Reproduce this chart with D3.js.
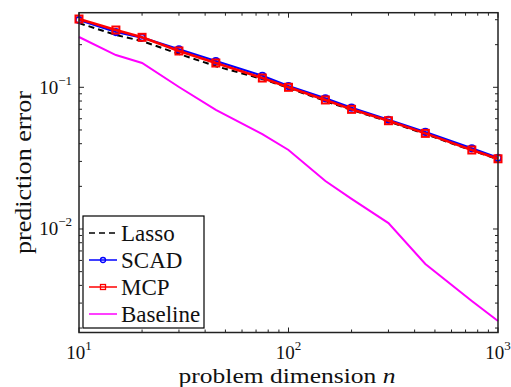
<!DOCTYPE html>
<html>
<head>
<meta charset="utf-8">
<script src="https://cdn.jsdelivr.net/npm/d3@7"></script>
<style>
  body { margin: 0; background: #fff; }
  svg { display: block; font-family: "Liberation Serif", "Times New Roman", serif; }
</style>
</head>
<body>
<svg id="svg"></svg>
<script>
// problem dimension n
const dims = [10, 15, 20, 30, 45, 75, 100, 150, 200, 300, 450, 750, 1000];
const lasso = [0.284, 0.234, 0.212, 0.172, 0.141, 0.1145, 0.0989, 0.080, 0.0692, 0.0574, 0.0468, 0.0358, 0.0311];
const scad = [0.2985, 0.2455, 0.2245, 0.1854, 0.1533, 0.1207, 0.1021, 0.0836, 0.0718, 0.0590, 0.0484, 0.0371, 0.0318];
const mcp = [0.3034, 0.2537, 0.2253, 0.1804, 0.1484, 0.1163, 0.100, 0.0814, 0.0699, 0.0581, 0.0473, 0.0361, 0.0313];
const baseline = [0.2265, 0.169, 0.1485, 0.1005, 0.0692, 0.0468, 0.0361, 0.0218, 0.0163, 0.0110, 0.00566, 0.0031, 0.00224];
const xTicks = [10, 100, 1000];
const xTickExp = ['1', '2', '3'];
const yTicks = [0.01, 0.1];
const yTickExp = ['\u22122', '\u22121'];
const legendNames = ['Lasso', 'SCAD', 'MCP', 'Baseline'];

const W = 511, H = 387;
const margin = { top: 12.7, right: 13, bottom: 54.5, left: 79 };
const width = W - margin.left - margin.right;
const height = H - margin.top - margin.bottom;

const svg = d3.select('#svg').attr('width', W).attr('height', H);
const g = svg.append('g').attr('transform', `translate(${margin.left},${margin.top})`);

const x = d3.scaleLog().domain([10, 1000]).range([0, width]);
const y = d3.scaleLog().domain([0.00186, 0.3362]).range([height, 0]);

// minor ticks
const xMinor = [];
[10, 100].forEach((b) => { for (let k = 2; k <= 9; k++) xMinor.push(b * k); });
const yMinor = [];
[0.001, 0.01, 0.1].forEach((b) => {
  for (let k = 2; k <= 9; k++) {
    const v = b * k;
    if (v > y.domain()[0] && v < y.domain()[1]) yMinor.push(v);
  }
});

const ticks = g.append('g').attr('stroke', '#222').attr('stroke-width', 1);
function tickX(list, len) {
  list.forEach((v) => {
    ticks.append('line').attr('x1', x(v)).attr('x2', x(v)).attr('y1', height).attr('y2', height - len);
    ticks.append('line').attr('x1', x(v)).attr('x2', x(v)).attr('y1', 0).attr('y2', len);
  });
}
function tickY(list, len) {
  list.forEach((v) => {
    ticks.append('line').attr('y1', y(v)).attr('y2', y(v)).attr('x1', 0).attr('x2', len);
    ticks.append('line').attr('y1', y(v)).attr('y2', y(v)).attr('x1', width).attr('x2', width - len);
  });
}
tickX(xTicks, 5);
tickX(xMinor, 3);
tickY(yTicks, 5);
tickY(yMinor, 3);

// series
const line = (vals) => d3.line().x((d, i) => x(dims[i])).y((d) => y(d))(vals);
const plot = g.append('g').attr('fill', 'none');

plot.append('path').attr('d', line(baseline)).attr('stroke', '#ff00ff').attr('stroke-width', 2);
plot.append('path').attr('d', line(lasso)).attr('stroke', '#000').attr('stroke-width', 2)
  .attr('stroke-dasharray', '6,4');
plot.append('path').attr('d', line(scad)).attr('stroke', '#0000ff').attr('stroke-width', 2.2);
plot.selectAll('circle.scad').data(scad).join('circle').attr('class', 'scad')
  .attr('cx', (d, i) => x(dims[i])).attr('cy', (d) => y(d)).attr('r', 3.2)
  .attr('stroke', '#0000ff').attr('stroke-width', 1.8);
plot.append('path').attr('d', line(mcp)).attr('stroke', '#ff0000').attr('stroke-width', 2.6);
plot.selectAll('rect.mcp').data(mcp).join('rect').attr('class', 'mcp')
  .attr('x', (d, i) => x(dims[i]) - 3.5).attr('y', (d) => y(d) - 3.5)
  .attr('width', 7).attr('height', 7)
  .attr('stroke', '#ff0000').attr('stroke-width', 2);

// frame
g.append('rect').attr('width', width).attr('height', height)
  .attr('fill', 'none').attr('stroke', '#222').attr('stroke-width', 1.5);

// tick labels
xTicks.forEach((v, i) => {
  const t = g.append('text').attr('x', x(v)).attr('y', height + 26.5)
    .attr('text-anchor', 'middle').attr('font-size', 19).attr('fill', '#111');
  t.append('tspan').text('10');
  t.append('tspan').attr('dy', -9).attr('font-size', 13).text(xTickExp[i]);
});
yTicks.forEach((v, i) => {
  const t = g.append('text').attr('x', -7).attr('y', y(v) + 6.5)
    .attr('text-anchor', 'end').attr('font-size', 19).attr('fill', '#111');
  t.append('tspan').text('10');
  t.append('tspan').attr('dy', -9).attr('font-size', 13).text(yTickExp[i]);
});

// axis labels
const xl = svg.append('text').attr('x', 287).attr('y', 383)
  .attr('text-anchor', 'middle').attr('font-size', 22).attr('fill', '#111')
  .attr('textLength', 217).attr('lengthAdjust', 'spacingAndGlyphs');
xl.append('tspan').text('problem dimension ');
xl.append('tspan').attr('font-style', 'italic').text('n');

svg.append('text').attr('transform', `translate(31,${margin.top + height / 2}) rotate(-90)`)
  .attr('text-anchor', 'middle').attr('font-size', 24).attr('fill', '#111')
  .attr('textLength', 163).attr('lengthAdjust', 'spacingAndGlyphs')
  .text('prediction error');

// legend
const leg = svg.append('g').attr('transform', 'translate(83,216)');
leg.append('rect').attr('width', 121).attr('height', 112)
  .attr('fill', '#fff').attr('stroke', '#000').attr('stroke-width', 1.2);
const legY = d3.scalePoint().domain(legendNames).range([17, 98]);
const legStyle = {
  Lasso: { color: '#000', dash: '6,4' },
  SCAD: { color: '#0000ff', dash: null },
  MCP: { color: '#ff0000', dash: null },
  Baseline: { color: '#ff00ff', dash: null },
};
legendNames.forEach((name) => {
  const yy = legY(name);
  const s = legStyle[name];
  leg.append('line').attr('x1', 6).attr('x2', 34).attr('y1', yy).attr('y2', yy)
    .attr('stroke', s.color).attr('stroke-width', 1.5).attr('stroke-dasharray', s.dash);
  if (name === 'SCAD') {
    leg.append('circle').attr('cx', 20).attr('cy', yy).attr('r', 2.5)
      .attr('fill', 'none').attr('stroke', s.color).attr('stroke-width', 1.3);
  }
  if (name === 'MCP') {
    leg.append('rect').attr('x', 17.5).attr('y', yy - 2.5).attr('width', 5).attr('height', 5)
      .attr('fill', 'none').attr('stroke', s.color).attr('stroke-width', 1.3);
  }
  leg.append('text').attr('x', 38).attr('y', yy + 7.5).attr('font-size', 23).attr('fill', '#111')
    .text(name);
});
</script>
</body>
</html>
